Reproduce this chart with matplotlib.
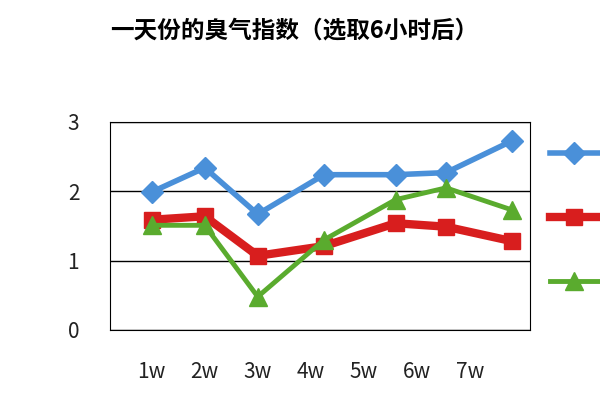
import matplotlib
matplotlib.use("Agg")
import matplotlib.pyplot as plt
from matplotlib.lines import Line2D

plt.rcParams['font.family'] = ['Noto Sans CJK SC', 'DejaVu Sans']

x = [1.0, 2.0, 3.0, 4.25, 5.6, 6.55, 7.8]
tick_pos = [1, 2, 3, 4, 5, 6, 7]
tick_labels = ['1w', '2w', '3w', '4w', '5w', '6w', '7w']
blue = [1.99, 2.34, 1.67, 2.24, 2.24, 2.27, 2.73]
red = [1.59, 1.64, 1.07, 1.21, 1.54, 1.49, 1.28]
green = [1.51, 1.51, 0.48, 1.30, 1.88, 2.05, 1.73]

fig = plt.figure(figsize=(6, 4), dpi=100)
ax = fig.add_axes([0.183, 0.175, 0.7, 0.52])
cb, cr, cg = '#4a90d9', '#d81e1e', '#5aab2e'
ax.plot(x, blue, color=cb, lw=4, marker='D', ms=11, zorder=3)
ax.plot(x, red, color=cr, lw=6, marker='s', ms=12, zorder=3)
ax.plot(x, green, color=cg, lw=3.5, marker='^', ms=13, zorder=4)
ax.set_xlim(0.21, 8.13)
ax.set_ylim(0, 3)
ax.set_yticks([0, 1, 2, 3])
ax.set_xticks(tick_pos)
ax.set_xticklabels(tick_labels)
ax.tick_params(length=0, labelsize=15, colors='#222222')
ax.tick_params(axis='x', pad=22)
ax.tick_params(axis='y', pad=22)
for s in ax.spines.values():
    s.set_color('black')
ax.grid(axis='y', color='black', lw=1)

handles = [Line2D([], [], color=cb, lw=4, marker='D', ms=11),
           Line2D([], [], color=cr, lw=6, marker='s', ms=12),
           Line2D([], [], color=cg, lw=3.5, marker='^', ms=13)]
fig.legend(handles, ['', '', ''], loc='upper left', bbox_to_anchor=(0.895, 0.665),
           frameon=False, handlelength=3.5, labelspacing=3.6)

fig.text(0.49, 0.925, '一天份的臭气指数（选取6小时后）', ha='center', va='center',
         fontsize=17, fontweight='bold')
fig.savefig('out.png')
